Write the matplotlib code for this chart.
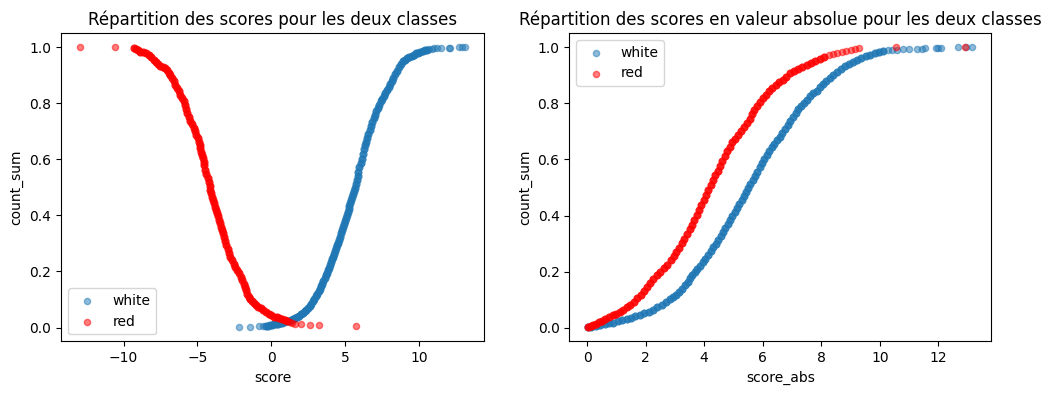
import matplotlib
matplotlib.use("Agg")
import matplotlib.pyplot as plt
import numpy as np

# ---------------- data ----------------
# Left panel: white class, score vs cumulative count
white_score = [-2.2, -1.45, -0.85, -0.55,
    -0.39, -0.25, -0.1, 0.05, 0.17, 0.3, 0.45, 0.6, 0.75, 0.85, 1.0, 1.15, 1.3, 1.45, 1.6, 1.75,
    1.9, 2.0, 2.12, 2.25, 2.37, 2.48, 2.6, 2.7, 2.8, 2.9, 3.0, 3.1, 3.2, 3.28, 3.36, 3.45, 3.53,
    3.61, 3.69, 3.76, 3.83, 3.9, 3.97, 4.04, 4.11, 4.18, 4.25, 4.32, 4.39, 4.46, 4.53, 4.6, 4.67,
    4.74, 4.81, 4.87, 4.93, 4.99, 5.05, 5.11, 5.17, 5.23, 5.29, 5.35, 5.41, 5.47, 5.53, 5.59, 5.65,
    5.71, 5.78, 5.84, 5.9, 5.97, 6.04, 6.11, 6.18, 6.26, 6.34, 6.42, 6.5, 6.58, 6.66, 6.75, 6.84,
    6.93, 7.02, 7.11, 7.2, 7.3, 7.4, 7.5, 7.61, 7.72, 7.83, 7.94, 8.05, 8.16, 8.27, 8.38, 8.5, 8.62,
    8.76, 8.9, 9.05, 9.2, 9.35, 9.5, 9.65, 9.8, 9.95, 10.1, 10.25, 10.4, 10.55, 10.7, 10.85, 11.0,
    11.2, 11.47, 12.03, 12.1, 12.7, 12.9, 13.1]
white_count = [0.001, 0.003, 0.004, 0.005,
    0.006, 0.007, 0.008, 0.010, 0.012, 0.013, 0.014, 0.016, 0.018, 0.020, 0.022, 0.024, 0.027, 0.030, 0.034, 0.038,
    0.043, 0.047, 0.052, 0.058, 0.064, 0.070, 0.077, 0.084, 0.094, 0.102, 0.111, 0.120, 0.130, 0.138, 0.147, 0.157, 0.167,
    0.177, 0.187, 0.195, 0.204, 0.213, 0.223, 0.233, 0.243, 0.253, 0.263, 0.273, 0.283, 0.293, 0.303, 0.313, 0.324,
    0.336, 0.348, 0.358, 0.369, 0.379, 0.390, 0.400, 0.411, 0.422, 0.432, 0.443, 0.454, 0.465, 0.476, 0.487, 0.499,
    0.511, 0.526, 0.541, 0.556, 0.572, 0.587, 0.602, 0.618, 0.635, 0.650, 0.663, 0.676, 0.689, 0.703, 0.717, 0.733,
    0.746, 0.758, 0.771, 0.784, 0.795, 0.806, 0.816, 0.827, 0.837, 0.847, 0.858, 0.868, 0.879, 0.891, 0.903, 0.916, 0.930,
    0.941, 0.950, 0.955, 0.960, 0.964, 0.969, 0.973, 0.977, 0.980, 0.983, 0.986, 0.988, 0.990, 0.992, 0.993, 0.995,
    0.995, 0.996, 0.998, 0.998, 0.999, 1.0, 1.0]

# Left panel: red class
red_score = [-12.94, -10.56,
    -9.32, -9.15, -9.0, -8.87, -8.7, -8.5, -8.3, -8.15, -7.96, -7.8, -7.65, -7.51, -7.35, -7.2, -7.06,
    -6.95, -6.84, -6.72, -6.61, -6.5, -6.38, -6.27, -6.16, -6.04, -5.93, -5.86, -5.79, -5.72, -5.6,
    -5.48, -5.37, -5.25, -5.16, -5.07, -4.99, -4.91, -4.86, -4.8, -4.75, -4.69, -4.64, -4.58, -4.53,
    -4.46, -4.39, -4.31, -4.24, -4.18, -4.12, -4.07, -4.01, -3.96, -3.9, -3.84, -3.77, -3.7, -3.63,
    -3.56, -3.5, -3.43, -3.36, -3.29, -3.22, -3.13, -3.04, -2.95, -2.86, -2.77, -2.66, -2.54, -2.43,
    -2.31, -2.2, -2.08, -1.97, -1.86, -1.78, -1.7, -1.62, -1.53, -1.42, -1.3, -1.19, -1.04, -0.89,
    -0.73, -0.55, -0.36, -0.17, 0.0, 0.17, 0.36, 0.55, 0.74, 0.9, 1.08, 1.25, 1.42, 1.6,
    1.98, 2.61, 3.22, 5.71]
red_count = [1.0, 1.0,
    0.996, 0.992, 0.988, 0.984, 0.981, 0.977, 0.972, 0.965, 0.955, 0.948, 0.941, 0.934, 0.929, 0.924, 0.918,
    0.909, 0.899, 0.889, 0.878, 0.866, 0.854, 0.842, 0.830, 0.818, 0.806, 0.793, 0.779, 0.764, 0.750,
    0.737, 0.724, 0.711, 0.699, 0.687, 0.675, 0.663, 0.651, 0.639, 0.627, 0.615, 0.603, 0.591, 0.578,
    0.562, 0.548, 0.534, 0.520, 0.505, 0.490, 0.478, 0.466, 0.455, 0.443, 0.431, 0.420, 0.408, 0.396,
    0.383, 0.371, 0.359, 0.348, 0.336, 0.324, 0.310, 0.295, 0.281, 0.266, 0.252, 0.240, 0.228, 0.216,
    0.205, 0.193, 0.181, 0.169, 0.157, 0.145, 0.133, 0.121, 0.109, 0.101, 0.093, 0.086, 0.080, 0.074,
    0.068, 0.062, 0.056, 0.050, 0.044, 0.038, 0.036, 0.034, 0.032, 0.028, 0.024, 0.020, 0.016, 0.014,
    0.012, 0.008, 0.008, 0.005]

# Right panel: white class, absolute score
white_abs = [0.05, 0.15, 0.3, 0.45, 0.6, 0.75, 0.9, 1.05, 1.2, 1.35, 1.5, 1.65, 1.8, 1.95, 2.1, 2.25,
    2.4, 2.55, 2.7, 2.85, 2.95, 3.05, 3.15, 3.25, 3.35, 3.44, 3.52, 3.6, 3.68, 3.77, 3.86, 3.95,
    4.04, 4.13, 4.22, 4.31, 4.4, 4.48, 4.56, 4.64, 4.72, 4.8, 4.88, 4.96, 5.04, 5.12, 5.2, 5.28,
    5.35, 5.42, 5.5, 5.58, 5.66, 5.74, 5.82, 5.9, 5.98, 6.06, 6.14, 6.22, 6.31, 6.4, 6.49, 6.58,
    6.67, 6.76, 6.85, 6.94, 7.03, 7.12, 7.21, 7.31, 7.41, 7.51, 7.62, 7.73, 7.84, 7.95, 8.06, 8.17,
    8.29, 8.41, 8.54, 8.67, 8.8, 8.94, 9.08, 9.22, 9.37, 9.52, 9.67, 9.82, 9.97, 10.12, 10.27,
    10.42, 10.6, 10.8, 10.98,
    11.26, 11.43, 11.55, 11.9, 12.0, 12.1, 12.66, 12.94, 13.15]
white_abs_count = [0.002, 0.004, 0.007, 0.010, 0.013, 0.016, 0.019, 0.023, 0.027, 0.031, 0.036, 0.041, 0.046, 0.052, 0.058, 0.065,
    0.073, 0.082, 0.091, 0.102, 0.110, 0.118, 0.128, 0.140, 0.153, 0.164, 0.176, 0.188, 0.200, 0.211, 0.222, 0.233,
    0.246, 0.260, 0.273, 0.287, 0.300, 0.314, 0.328, 0.343, 0.357, 0.370, 0.384, 0.398, 0.412, 0.426, 0.441, 0.456,
    0.470, 0.484, 0.498, 0.512, 0.526, 0.540, 0.556, 0.572, 0.588, 0.603, 0.617, 0.631, 0.643, 0.655, 0.668, 0.680,
    0.694, 0.708, 0.722, 0.737, 0.752, 0.766, 0.779, 0.791, 0.802, 0.813, 0.824, 0.835, 0.845, 0.856, 0.867, 0.878,
    0.889, 0.900, 0.911, 0.922, 0.932, 0.941, 0.948, 0.955, 0.961, 0.967, 0.973, 0.978, 0.983, 0.986, 0.988,
    0.990, 0.991, 0.993, 0.994,
    0.994, 0.994, 0.995, 0.997, 0.998, 0.998, 0.999, 1.0, 1.0]

# Right panel: red class, absolute score
red_abs = [0.05, 0.12, 0.2, 0.3, 0.4, 0.5, 0.62, 0.75, 0.88, 1.0, 1.12, 1.24, 1.36, 1.48, 1.6, 1.72,
    1.83, 1.94, 2.05, 2.16, 2.27, 2.38, 2.5, 2.62, 2.74, 2.86, 2.96, 3.05, 3.14, 3.23, 3.32, 3.41,
    3.5, 3.58, 3.66, 3.74, 3.82, 3.9, 3.98, 4.06, 4.14, 4.22, 4.3, 4.38, 4.46, 4.54, 4.62, 4.7,
    4.78, 4.87, 4.96, 5.06, 5.16, 5.26, 5.36, 5.46, 5.55, 5.63, 5.71, 5.8, 5.9, 6.0, 6.1, 6.2,
    6.32, 6.44, 6.56, 6.68, 6.8, 6.93, 7.06, 7.2, 7.35, 7.5, 7.65, 7.8, 7.95, 8.1, 8.25, 8.4,
    8.55, 8.7, 8.85, 9.0, 9.15, 9.3,
    10.55, 12.89]
red_abs_count = [0.003, 0.007, 0.011, 0.015, 0.020, 0.024, 0.030, 0.037, 0.044, 0.050, 0.057, 0.065, 0.074, 0.083, 0.093, 0.105,
    0.118, 0.131, 0.146, 0.161, 0.175, 0.188, 0.200, 0.212, 0.225, 0.240, 0.255, 0.270, 0.286, 0.302, 0.318, 0.335,
    0.352, 0.368, 0.384, 0.401, 0.418, 0.436, 0.454, 0.472, 0.490, 0.508, 0.526, 0.543, 0.560, 0.578, 0.595, 0.612,
    0.628, 0.644, 0.660, 0.674, 0.688, 0.702, 0.716, 0.730, 0.745, 0.760, 0.775, 0.790, 0.804, 0.817, 0.830, 0.842,
    0.853, 0.864, 0.874, 0.884, 0.895, 0.906, 0.915, 0.923, 0.930, 0.936, 0.942, 0.950, 0.958, 0.965, 0.970, 0.975,
    0.979, 0.982, 0.985, 0.988, 0.992, 0.996,
    1.0, 1.0]

# ---------------- figure ----------------
W, H = 1051, 394
fig = plt.figure(figsize=(W / 100, H / 100), dpi=100)
ax1 = fig.add_axes([61 / W, (H - 341.3) / H, 423 / W, 308.3 / H])
ax2 = fig.add_axes([569.3 / W, (H - 341.3) / H, 422 / W, 308.3 / H])


def draw(ax, x, y, color, label, lo, hi):
    """Points inside [lo, hi] form the crowded band (many overlapping markers
    in the original, hence opaque and slightly thicker); others stay translucent."""
    x = np.asarray(x)
    y = np.asarray(y)
    band = (x >= lo) & (x <= hi)
    ax.scatter(x[~band], y[~band], s=20, color=color, alpha=0.5, label=label)
    ax.scatter(x[band], y[band], s=34, color=color, alpha=0.9, linewidths=0)


draw(ax1, white_score, white_count, "C0", "white", -0.45, 10.6)
draw(ax1, red_score, red_count, "red", "red", -9.4, 1.2)
ax1.set_xlabel("score")
ax1.set_ylabel("count_sum")
ax1.set_title("Répartition des scores pour les deux classes")
ax1.legend(loc="lower left")

draw(ax2, white_abs, white_abs_count, "C0", "white", 0.0, 10.2)
draw(ax2, red_abs, red_abs_count, "red", "red", 0.0, 8.2)
ax2.set_xlabel("score_abs")
ax2.set_ylabel("count_sum")
ax2.set_title("Répartition des scores en valeur absolue pour les deux classes")
ax2.legend(loc="upper left")

fig.savefig("out.png", dpi=100)
